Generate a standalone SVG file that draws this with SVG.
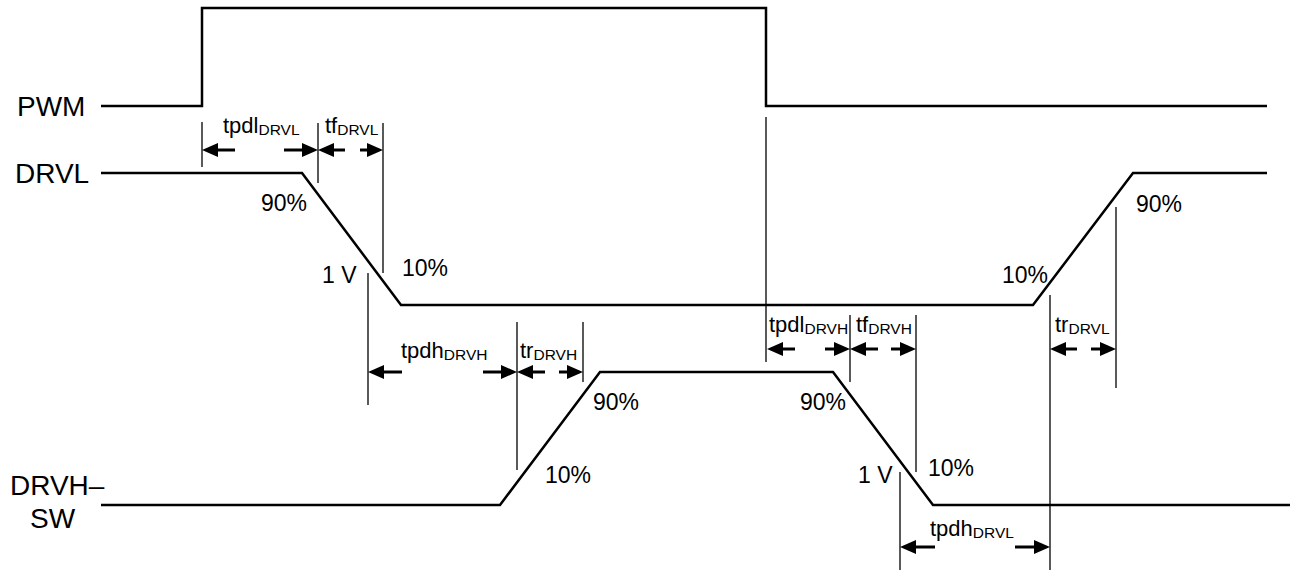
<svg xmlns="http://www.w3.org/2000/svg" width="1301" height="572" viewBox="0 0 1301 572">
<style>
.w{fill:none;stroke:#000;stroke-width:2.5;stroke-linejoin:miter}
.v{stroke:#000;stroke-width:1.3}
.s{stroke:#000;stroke-width:3}
.h{fill:#000}
text{font-family:"Liberation Sans",Arial,sans-serif;fill:#000}
.lb{font-size:28px}
.t{font-size:22px}
.p{font-size:23px}
.sub{font-size:15.5px}
</style>
<rect width="1301" height="572" fill="#fff"/>
<g id="PWM">
<path class="w" d="M101,106 H202 V8 H766 V106 H1267"/>
<text class="lb" x="17" y="116">PWM</text>
</g>
<g id="DRVL">
<path class="w" d="M101,173 H302 L401,305 H1033 L1133,173 H1267"/>
<text class="lb" x="15" y="183">DRVL</text>
<text class="p" x="261" y="211">90%</text>
<text class="p" x="322" y="283">1 V</text>
<text class="p" x="402" y="276">10%</text>
<text class="p" x="1002" y="283">10%</text>
<text class="p" x="1136" y="212">90%</text>
</g>
<g id="DRVH-SW">
<path class="w" d="M101,505 H500 L600,372 H833 L933,505 H1290"/>
<text class="lb" x="10" y="495">DRVH–</text>
<text class="lb" x="30" y="528">SW</text>
<text class="p" x="593" y="410">90%</text>
<text class="p" x="545" y="483">10%</text>
<text class="p" x="800" y="410">90%</text>
<text class="p" x="858" y="483">1 V</text>
<text class="p" x="928" y="476">10%</text>
</g>
<g id="connectors">
<g id="guides">
<line class="v" x1="202" y1="122" x2="202" y2="167"/>
<line class="v" x1="318" y1="123" x2="318" y2="183"/>
<line class="v" x1="383" y1="123" x2="383" y2="273"/>
<line class="v" x1="368" y1="273" x2="368" y2="405"/>
<line class="v" x1="517" y1="322" x2="517" y2="470"/>
<line class="v" x1="583" y1="322" x2="583" y2="382"/>
<line class="v" x1="766" y1="117" x2="766" y2="362"/>
<line class="v" x1="850" y1="315" x2="850" y2="382"/>
<line class="v" x1="916" y1="315" x2="916" y2="472"/>
<line class="v" x1="900" y1="472" x2="900" y2="570"/>
<line class="v" x1="1050" y1="295" x2="1050" y2="570"/>
<line class="v" x1="1116" y1="207" x2="1116" y2="388"/>
</g>
<g id="arrows">
<!-- y=150 -->
<line class="s" x1="212" y1="150" x2="235" y2="150"/><polygon class="h" points="202,150 218,143 218,157"/>
<line class="s" x1="284" y1="150" x2="308" y2="150"/><polygon class="h" points="318,150 302,143 302,157"/>
<line class="s" x1="328" y1="150" x2="345" y2="150"/><polygon class="h" points="318,150 334,143 334,157"/>
<line class="s" x1="360" y1="150" x2="373" y2="150"/><polygon class="h" points="383,150 367,143 367,157"/>
<!-- y=372 -->
<line class="s" x1="378" y1="372" x2="402" y2="372"/><polygon class="h" points="368,372 384,365 384,379"/>
<line class="s" x1="483" y1="372" x2="507" y2="372"/><polygon class="h" points="517,372 501,365 501,379"/>
<line class="s" x1="527" y1="372" x2="545" y2="372"/><polygon class="h" points="517,372 533,365 533,379"/>
<line class="s" x1="559" y1="372" x2="573" y2="372"/><polygon class="h" points="583,372 567,365 567,379"/>
<!-- y=349 -->
<line class="s" x1="777" y1="349" x2="795" y2="349"/><polygon class="h" points="767,349 783,342 783,356"/>
<line class="s" x1="825" y1="349" x2="840" y2="349"/><polygon class="h" points="850,349 834,342 834,356"/>
<line class="s" x1="860" y1="349" x2="878" y2="349"/><polygon class="h" points="850,349 866,342 866,356"/>
<line class="s" x1="891" y1="349" x2="906" y2="349"/><polygon class="h" points="916,349 900,342 900,356"/>
<line class="s" x1="1060" y1="349" x2="1077" y2="349"/><polygon class="h" points="1050,349 1066,342 1066,356"/>
<line class="s" x1="1091" y1="349" x2="1106" y2="349"/><polygon class="h" points="1116,349 1100,342 1100,356"/>
<!-- y=547 -->
<line class="s" x1="910" y1="547" x2="935" y2="547"/><polygon class="h" points="900,547 916,540 916,554"/>
<line class="s" x1="1015" y1="547" x2="1040" y2="547"/><polygon class="h" points="1050,547 1034,540 1034,554"/>
</g>
<g id="labels">
<text class="t" x="223" y="133">tpdl<tspan class="sub" dy="2">DRVL</tspan></text>
<text class="t" x="325" y="133">tf<tspan class="sub" dy="2">DRVL</tspan></text>
<text class="t" x="401" y="358">tpdh<tspan class="sub" dy="2">DRVH</tspan></text>
<text class="t" x="520" y="358">tr<tspan class="sub" dy="2">DRVH</tspan></text>
<text class="t" x="769" y="332">tpdl<tspan class="sub" dy="2">DRVH</tspan></text>
<text class="t" x="856" y="332">tf<tspan class="sub" dy="2">DRVH</tspan></text>
<text class="t" x="1055" y="332">tr<tspan class="sub" dy="2">DRVL</tspan></text>
<text class="t" x="930" y="536">tpdh<tspan class="sub" dy="2">DRVL</tspan></text>
</g>
</g>
</svg>
